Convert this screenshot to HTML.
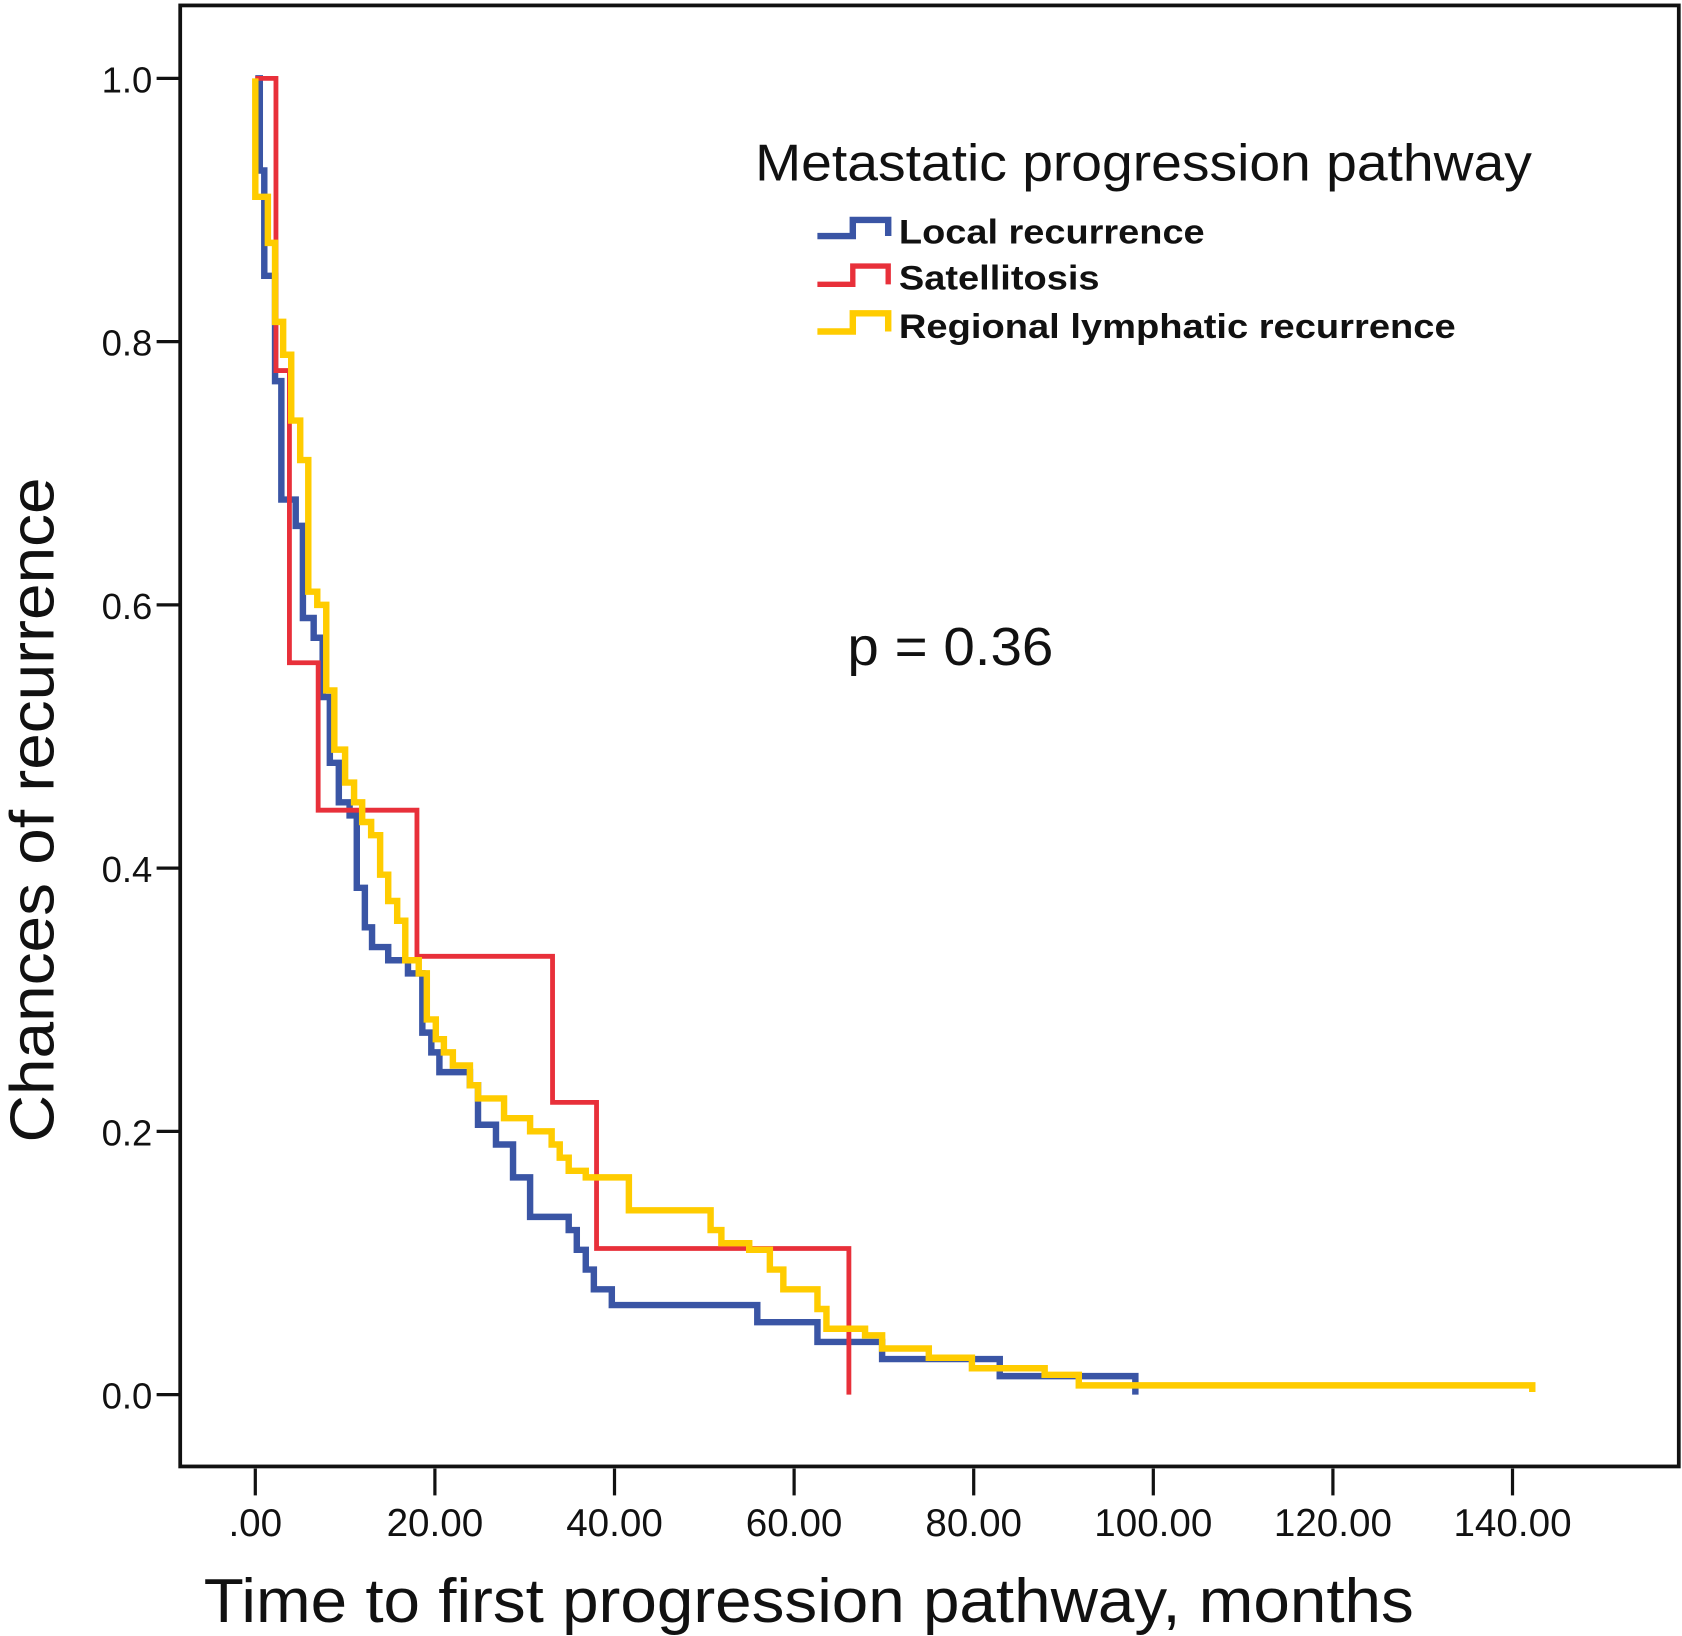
<!DOCTYPE html>
<html><head><meta charset="utf-8"><style>
html,body{margin:0;padding:0;background:#fff;}
svg{display:block;font-family:"Liberation Sans",Arial,sans-serif;}
</style></head><body>
<svg id="chart" width="1682" height="1636" viewBox="0 0 1568 1525" xmlns="http://www.w3.org/2000/svg">
<rect x="168" y="5" width="1397" height="1362" fill="#fff" stroke="#111" stroke-width="3.5"/>
<g id="axes"></g>
<g id="series"></g>
<text x="30" y="755" font-size="58" text-anchor="middle" transform="rotate(-90 30 755)" dy="20" textLength="620" lengthAdjust="spacingAndGlyphs" fill="#111">Chances of recurrence</text>
<text x="190" y="1512" font-size="58" textLength="1128" lengthAdjust="spacingAndGlyphs" fill="#111">Time to first progression pathway, months</text>
<g>
<text x="704" y="168" font-size="48" textLength="724" lengthAdjust="spacingAndGlyphs" fill="#111">Metastatic progression pathway</text>
<path d="M762 220 H795 V205 H828 V220" fill="none" stroke="#3a55a5" stroke-width="6"/>
<text x="838" y="227" font-size="32" font-weight="bold" textLength="285" lengthAdjust="spacingAndGlyphs" fill="#111">Local recurrence</text>
<path d="M762 265 H795 V248 H828 V265" fill="none" stroke="#e8303a" stroke-width="5"/>
<text x="838" y="270" font-size="32" font-weight="bold" textLength="187" lengthAdjust="spacingAndGlyphs" fill="#111">Satellitosis</text>
<path d="M762 309 H795 V292 H828 V309" fill="none" stroke="#ffcc00" stroke-width="6"/>
<text x="838" y="315" font-size="32" font-weight="bold" textLength="519" lengthAdjust="spacingAndGlyphs" fill="#111">Regional lymphatic recurrence</text>
</g>
<text x="790" y="620" font-size="50" textLength="192" lengthAdjust="spacingAndGlyphs" fill="#111">p = 0.36</text>
</svg>
<script>
const xTicks = [0,20,40,60,80,100,120,140];
const xTickLabels = [".00","20.00","40.00","60.00","80.00","100.00","120.00","140.00"];
const yTicks = [0,0.2,0.4,0.6,0.8,1.0];
const yTickLabels = ["0.0","0.2","0.4","0.6","0.8","1.0"];

const localTimes = [0.5,1.0,2.2,2.9,4.5,5.3,6.5,7.5,8.3,9.3,10.5,11.3,12.2,13.0,14.8,17.0,18.6,19.6,20.5,23.9,24.8,26.8,28.7,30.6,34.9,35.8,36.8,37.7,39.7,55.9,62.6,69.8,82.9];
const localValues = [0.93,0.85,0.77,0.68,0.66,0.59,0.575,0.53,0.48,0.45,0.44,0.385,0.355,0.34,0.33,0.32,0.275,0.26,0.245,0.235,0.205,0.19,0.165,0.135,0.125,0.11,0.095,0.08,0.068,0.055,0.04,0.027,0.014];
const localEnd = 98;
const localCensor = 0;

const satTimes = [2.3,3.8,7.0,18.0,33.1,38.0,66.1];
const satValues = [0.778,0.556,0.444,0.333,0.222,0.111,0];
const satEnd = 66.1;
const satCensor = 0;

const regTimes = [0,0.7,1.4,2.2,3.1,4.0,5.0,5.9,6.9,7.9,8.8,10.0,11.0,11.9,12.9,13.9,14.8,15.8,16.7,18.2,19.1,20.1,21.0,22.0,23.9,24.8,27.7,30.6,33.0,33.9,34.9,36.8,41.6,50.7,51.9,55.0,57.3,58.8,62.6,63.6,67.9,69.8,75.0,79.8,87.9,91.7];
const regValues = [0.91,0.91,0.875,0.815,0.79,0.74,0.71,0.61,0.60,0.535,0.49,0.465,0.45,0.435,0.425,0.395,0.375,0.36,0.33,0.32,0.285,0.27,0.26,0.25,0.235,0.225,0.21,0.20,0.19,0.18,0.17,0.165,0.14,0.125,0.115,0.11,0.095,0.08,0.065,0.05,0.045,0.035,0.028,0.02,0.015,0.007];
const regEnd = 142.2;
const regCensor = 0.002;

const NS = "http://www.w3.org/2000/svg";
function xs(t){ return 238 + t*(1410-238)/140; }
function ys(v){ return 1300 - v*(1300-73); }

const axes = document.getElementById('axes');
yTicks.forEach((v,i)=>{
  const l = document.createElementNS(NS,'line');
  l.setAttribute('x1',146); l.setAttribute('x2',168);
  l.setAttribute('y1',ys(v)); l.setAttribute('y2',ys(v));
  l.setAttribute('stroke','#111'); l.setAttribute('stroke-width',3);
  
  
  axes.appendChild(l);
  const t = document.createElementNS(NS,'text');
  t.setAttribute('x',142); t.setAttribute('y',ys(v)+13);
  t.setAttribute('text-anchor','end'); t.setAttribute('font-size',34);
  t.setAttribute('fill','#111');
  t.textContent = yTickLabels[i];
  
  
  axes.appendChild(t);
});
xTicks.forEach((v,i)=>{
  const l = document.createElementNS(NS,'line');
  l.setAttribute('x1',xs(v)); l.setAttribute('x2',xs(v));
  l.setAttribute('y1',1369); l.setAttribute('y2',1394);
  l.setAttribute('stroke','#111'); l.setAttribute('stroke-width',3);
  
  
  axes.appendChild(l);
  const t = document.createElementNS(NS,'text');
  t.setAttribute('x',xs(v)); t.setAttribute('y',1432);
  t.setAttribute('text-anchor','middle'); t.setAttribute('font-size',36);
  t.setAttribute('fill','#111');
  t.textContent = xTickLabels[i];
  
  
  axes.appendChild(t);
});

const series = document.getElementById('series');
function drawKM(times, values, end, censor, color, w, name){
  let d = 'M' + xs(0) + ' ' + ys(1);
  times.forEach((t,i)=>{ d += ' H' + xs(t) + ' V' + ys(values[i]); });
  d += ' H' + xs(end) + ' V' + ys(censor);
  const p = document.createElementNS(NS,'path');
  p.setAttribute('d',d); p.setAttribute('fill','none');
  p.setAttribute('stroke',color); p.setAttribute('stroke-width',w);
  p.setAttribute('stroke-linejoin','miter');
  
  
  series.appendChild(p);
}
drawKM(localTimes, localValues, localEnd, localCensor, '#3a55a5', 6, 'local-recurrence-curve');
drawKM(satTimes, satValues, satEnd, satCensor, '#e8303a', 4.5, 'satellitosis-curve');
drawKM(regTimes, regValues, regEnd, regCensor, '#ffcc00', 6, 'regional-lymphatic-curve');
</script>
</body></html>
